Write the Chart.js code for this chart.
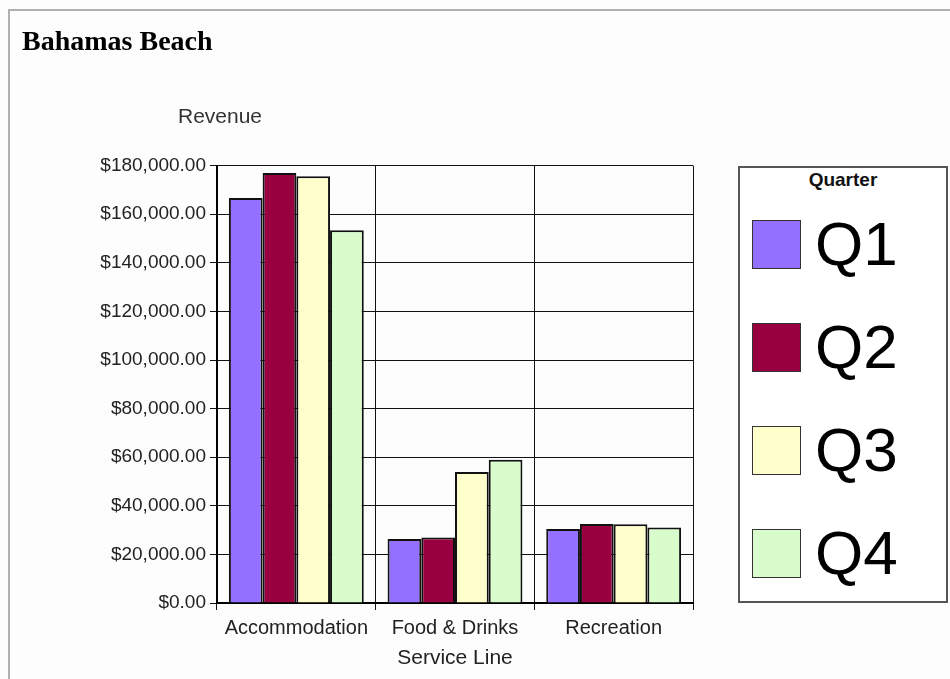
<!DOCTYPE html>
<html>
<head>
<meta charset="utf-8">
<title>Bahamas Beach</title>
<script src="https://cdn.jsdelivr.net/npm/chart.js@4/dist/chart.umd.min.js"></script>
<style>
    html, body {
        margin: 0;
        padding: 0;
        background: #fff;
    }
    #page {
        position: relative;
        width: 950px;
        height: 679px;
        overflow: hidden;
        background: #fdfdfd;
    }
    #frame {
        position: absolute;
        left: 8px;
        top: 9px;
        right: -4px;
        bottom: -4px;
        border-top: 2px solid #b0b0b0;
        border-left: 2px solid #b0b0b0;
    }
    #revenue-chart {
        position: absolute;
        left: 0;
        top: 0;
    }
    #legend {
        position: absolute;
        left: 738px;
        top: 166px;
        width: 206px;
        height: 433px;
        border: 2px solid #555;
        background: #fff;
        font-family: 'Liberation Sans', Arial, sans-serif;
    }
    #legend .legend-title {
        text-align: center;
        font-weight: bold;
        font-size: 19px;
        margin-top: 1px;
        color: #111;
    }
    #legend .legend-item {
        position: absolute;
        left: 12px;
        display: flex;
        align-items: center;
    }
    #legend .swatch {
        width: 47px;
        height: 47px;
        border: 1px solid #333;
        margin-right: 14px;
    }
    #legend .label {
        font-size: 62px;
        line-height: 62px;
        color: #000;
    }
</style>
</head>
<body>
<div id="page">
    <div id="frame"></div>
    <canvas id="revenue-chart" width="720" height="679"></canvas>
    <div id="legend"></div>
</div>
<script>
// Revenue per service line, by quarter
const serviceLines = ['Accommodation', 'Food & Drinks', 'Recreation'];
const quarters = ['Q1', 'Q2', 'Q3', 'Q4'];
const q1Revenue = [166700, 26300, 30500];
const q2Revenue = [177000, 27000, 32500];
const q3Revenue = [175600, 53900, 32400];
const q4Revenue = [153400, 59000, 31100];
const yTicks = [0, 20000, 40000, 60000, 80000, 100000, 120000, 140000, 160000, 180000];

const quarterColors = ['#9370ff', '#990040', '#ffffcc', '#d8fccc'];
const sansFont = "'Liberation Sans', Arial, sans-serif";

function formatDollars(value) {
    return '$' + value.toLocaleString('en-US', { minimumFractionDigits: 2, maximumFractionDigits: 2 });
}

// "Revenue" caption sits above the value axis, not rotated beside it
const revenueCaption = {
    id: 'revenueCaption',
    afterDraw(chart) {
        const { ctx, chartArea } = chart;
        ctx.save();
        ctx.font = '21px ' + sansFont;
        ctx.fillStyle = '#333';
        ctx.textAlign = 'center';
        ctx.textBaseline = 'middle';
        ctx.fillText('Revenue', chartArea.left + 3, chartArea.top - 48);
        ctx.restore();
    }
};

const seriesValues = [q1Revenue, q2Revenue, q3Revenue, q4Revenue];

const chart = new Chart(document.getElementById('revenue-chart'), {
    type: 'bar',
    data: {
        labels: serviceLines,
        datasets: quarters.map((q, i) => ({
            label: q,
            data: seriesValues[i],
            backgroundColor: quarterColors[i],
            borderColor: '#111',
            borderWidth: 2,
            borderSkipped: 'bottom',
            categoryPercentage: 0.85,
            barPercentage: 1.0,
        })),
    },
    options: {
        responsive: false,
        animation: false,
        layout: {
            padding: { left: 22, right: 27, top: 0, bottom: 0 },
        },
        plugins: {
            legend: { display: false },
            tooltip: { enabled: false },
            title: {
                display: true,
                text: 'Bahamas Beach',
                align: 'start',
                color: '#000',
                font: { family: "'Liberation Serif', 'Times New Roman', serif", size: 28, weight: 'bold' },
                padding: { top: 26, bottom: 106 },
            },
        },
        scales: {
            x: {
                grid: {
                    color: '#111',
                    lineWidth: 1,
                    offset: true,
                    tickLength: 7,
                },
                border: { color: '#000', width: 2 },
                ticks: {
                    color: '#222',
                    font: { family: sansFont, size: 20 },
                    padding: 6,
                    maxRotation: 0,
                },
                title: {
                    display: true,
                    text: 'Service Line',
                    color: '#222',
                    font: { family: sansFont, size: 21 },
                    padding: { top: 0, bottom: 8 },
                },
                afterFit(scale) {
                    scale.height = 76;
                },
            },
            y: {
                min: 0,
                max: 180000,
                afterBuildTicks(scale) {
                    scale.ticks = yTicks.map(v => ({ value: v }));
                },
                grid: {
                    color: '#111',
                    lineWidth: 1,
                    tickLength: 7,
                },
                border: { color: '#000', width: 2 },
                ticks: {
                    color: '#222',
                    font: { family: sansFont, size: 19 },
                    padding: 4,
                    callback: value => formatDollars(value),
                },
                afterFit(scale) {
                    scale.width = 195;
                },
            },
        },
    },
    plugins: [revenueCaption],
});

// Build the boxed legend from the chart's own datasets
function buildLegend(chart) {
    const legend = document.getElementById('legend');
    legend.innerHTML = '<div class="legend-title">Quarter</div>';
    chart.data.datasets.forEach((ds, i) => {
        const item = document.createElement('div');
        item.className = 'legend-item';
        item.style.top = (45 + i * 103) + 'px';
        item.innerHTML = `<div class="swatch" style="background:${ds.backgroundColor}"></div>` +
            `<span class="label">${ds.label}</span>`;
        legend.appendChild(item);
    });
}
buildLegend(chart);
</script>
</body>
</html>
